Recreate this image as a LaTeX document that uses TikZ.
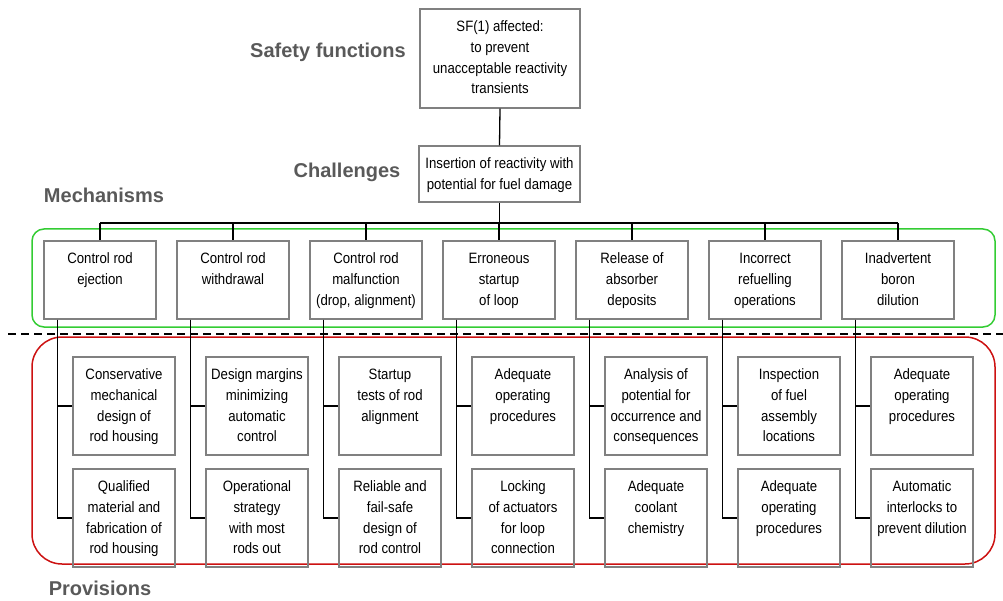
\documentclass[tikz,border=0pt]{standalone}
\usepackage{fontspec}
\setmainfont{Liberation Sans}
\newfontfamily\boxfont[FakeStretch=0.88]{Liberation Sans}
\definecolor{boxgray}{HTML}{808080}
\definecolor{labgray}{HTML}{595959}
\definecolor{mechgreen}{HTML}{33CC33}
\definecolor{provred}{HTML}{CC1111}
% box text: fixed-size parbox, lines centred and hung from the top
\newcommand{\boxtext}[3]{\parbox[c][#2][t]{#1}{\centering\rule{0pt}{22.5pt}#3}}
\begin{document}
\begin{tikzpicture}[x=1pt,y=-1pt,
  box/.style={draw=boxgray, line width=1.3pt, inner sep=0pt,
    font=\boxfont\fontsize{15pt}{20.8pt}\selectfont},
  conn/.style={black, line width=1.3pt},
  lab/.style={inner sep=0pt, text=labgray,
    font=\bfseries\fontsize{20pt}{24pt}\selectfont}]
\useasboundingbox (0,0) rectangle (1003,601);

% group frames and divider
\draw[mechgreen, line width=1.5pt, rounded corners=12pt] (32,229) rectangle (995,327);
\draw[provred, line width=1.5pt, rounded corners=30pt] (32,337) rectangle (995,564);
\draw[black, line width=2pt, dash pattern=on 8pt off 5pt] (8,334) -- (1003,334);

% level labels
\node[lab] (lsf)   at (328,52)  {Safety functions};
\node[lab] (lch)   at (347,172) {Challenges};
\node[lab] (lmech) at (104,195) {Mechanisms};
\node[lab] (lprov) at (100,588) {Provisions};

% safety function and challenge
\node[box] (sf) at (500,58.5) {\boxtext{160pt}{99pt}{SF(1) affected:\\to prevent\\unacceptable reactivity\\transients}};
\node[box] (ch) at (499.5,174) {\boxtext{161pt}{56pt}{Insertion of reactivity with\\potential for fuel damage}};

% mechanisms
\node[box] (m1) at (100,280) {\boxtext{112pt}{78pt}{Control rod\\ejection}};
\node[box] (m2) at (233,280) {\boxtext{112pt}{78pt}{Control rod\\withdrawal}};
\node[box] (m3) at (366,280) {\boxtext{112pt}{78pt}{Control rod\\malfunction\\(drop, alignment)}};
\node[box] (m4) at (499,280) {\boxtext{112pt}{78pt}{Erroneous\\startup\\of loop}};
\node[box] (m5) at (632,280) {\boxtext{112pt}{78pt}{Release of\\absorber\\deposits}};
\node[box] (m6) at (765,280) {\boxtext{112pt}{78pt}{Incorrect\\refuelling\\operations}};
\node[box] (m7) at (898,280) {\boxtext{112pt}{78pt}{Inadvertent\\boron\\dilution}};

% provisions, upper row
\node[box] (p1a) at (124,406) {\boxtext{102pt}{98pt}{Conservative\\mechanical\\design of\\rod housing}};
\node[box] (p2a) at (257,406) {\boxtext{102pt}{98pt}{Design margins\\minimizing\\automatic\\control}};
\node[box] (p3a) at (390,406) {\boxtext{102pt}{98pt}{Startup\\tests of rod\\alignment}};
\node[box] (p4a) at (523,406) {\boxtext{102pt}{98pt}{Adequate\\operating\\procedures}};
\node[box] (p5a) at (656,406) {\boxtext{102pt}{98pt}{Analysis of\\potential for\\occurrence and\\consequences}};
\node[box] (p6a) at (789,406) {\boxtext{102pt}{98pt}{Inspection\\of fuel\\assembly\\locations}};
\node[box] (p7a) at (922,406) {\boxtext{102pt}{98pt}{Adequate\\operating\\procedures}};

% provisions, lower row
\node[box] (p1b) at (124,518) {\boxtext{102pt}{98pt}{Qualified\\material and\\fabrication of\\rod housing}};
\node[box] (p2b) at (257,518) {\boxtext{102pt}{98pt}{Operational\\strategy\\with most\\rods out}};
\node[box] (p3b) at (390,518) {\boxtext{102pt}{98pt}{Reliable and\\fail-safe\\design of\\rod control}};
\node[box] (p4b) at (523,518) {\boxtext{102pt}{98pt}{Locking\\of actuators\\for loop\\connection}};
\node[box] (p5b) at (656,518) {\boxtext{102pt}{98pt}{Adequate\\coolant\\chemistry}};
\node[box] (p6b) at (789,518) {\boxtext{102pt}{98pt}{Adequate\\operating\\procedures}};
\node[box] (p7b) at (922,518) {\boxtext{102pt}{98pt}{Automatic\\interlocks to\\prevent dilution}};

% tree connectors
\coordinate (bus) at (0,223);
\draw[conn] (sf.south) -- (ch.north);
\draw[conn] (ch.south) -- (ch.south |- bus);
\draw[conn] (m1.north |- bus) -- (m7.north |- bus);
\foreach \k in {1,...,7}{
  \draw[conn] (m\k.north |- bus) -- (m\k.north);
  \draw[conn] ([xshift=14pt]m\k.south west) |- (p\k a.west);
  \draw[conn] ([xshift=14pt]m\k.south west) |- (p\k b.west);
}
\end{tikzpicture}
\end{document}
